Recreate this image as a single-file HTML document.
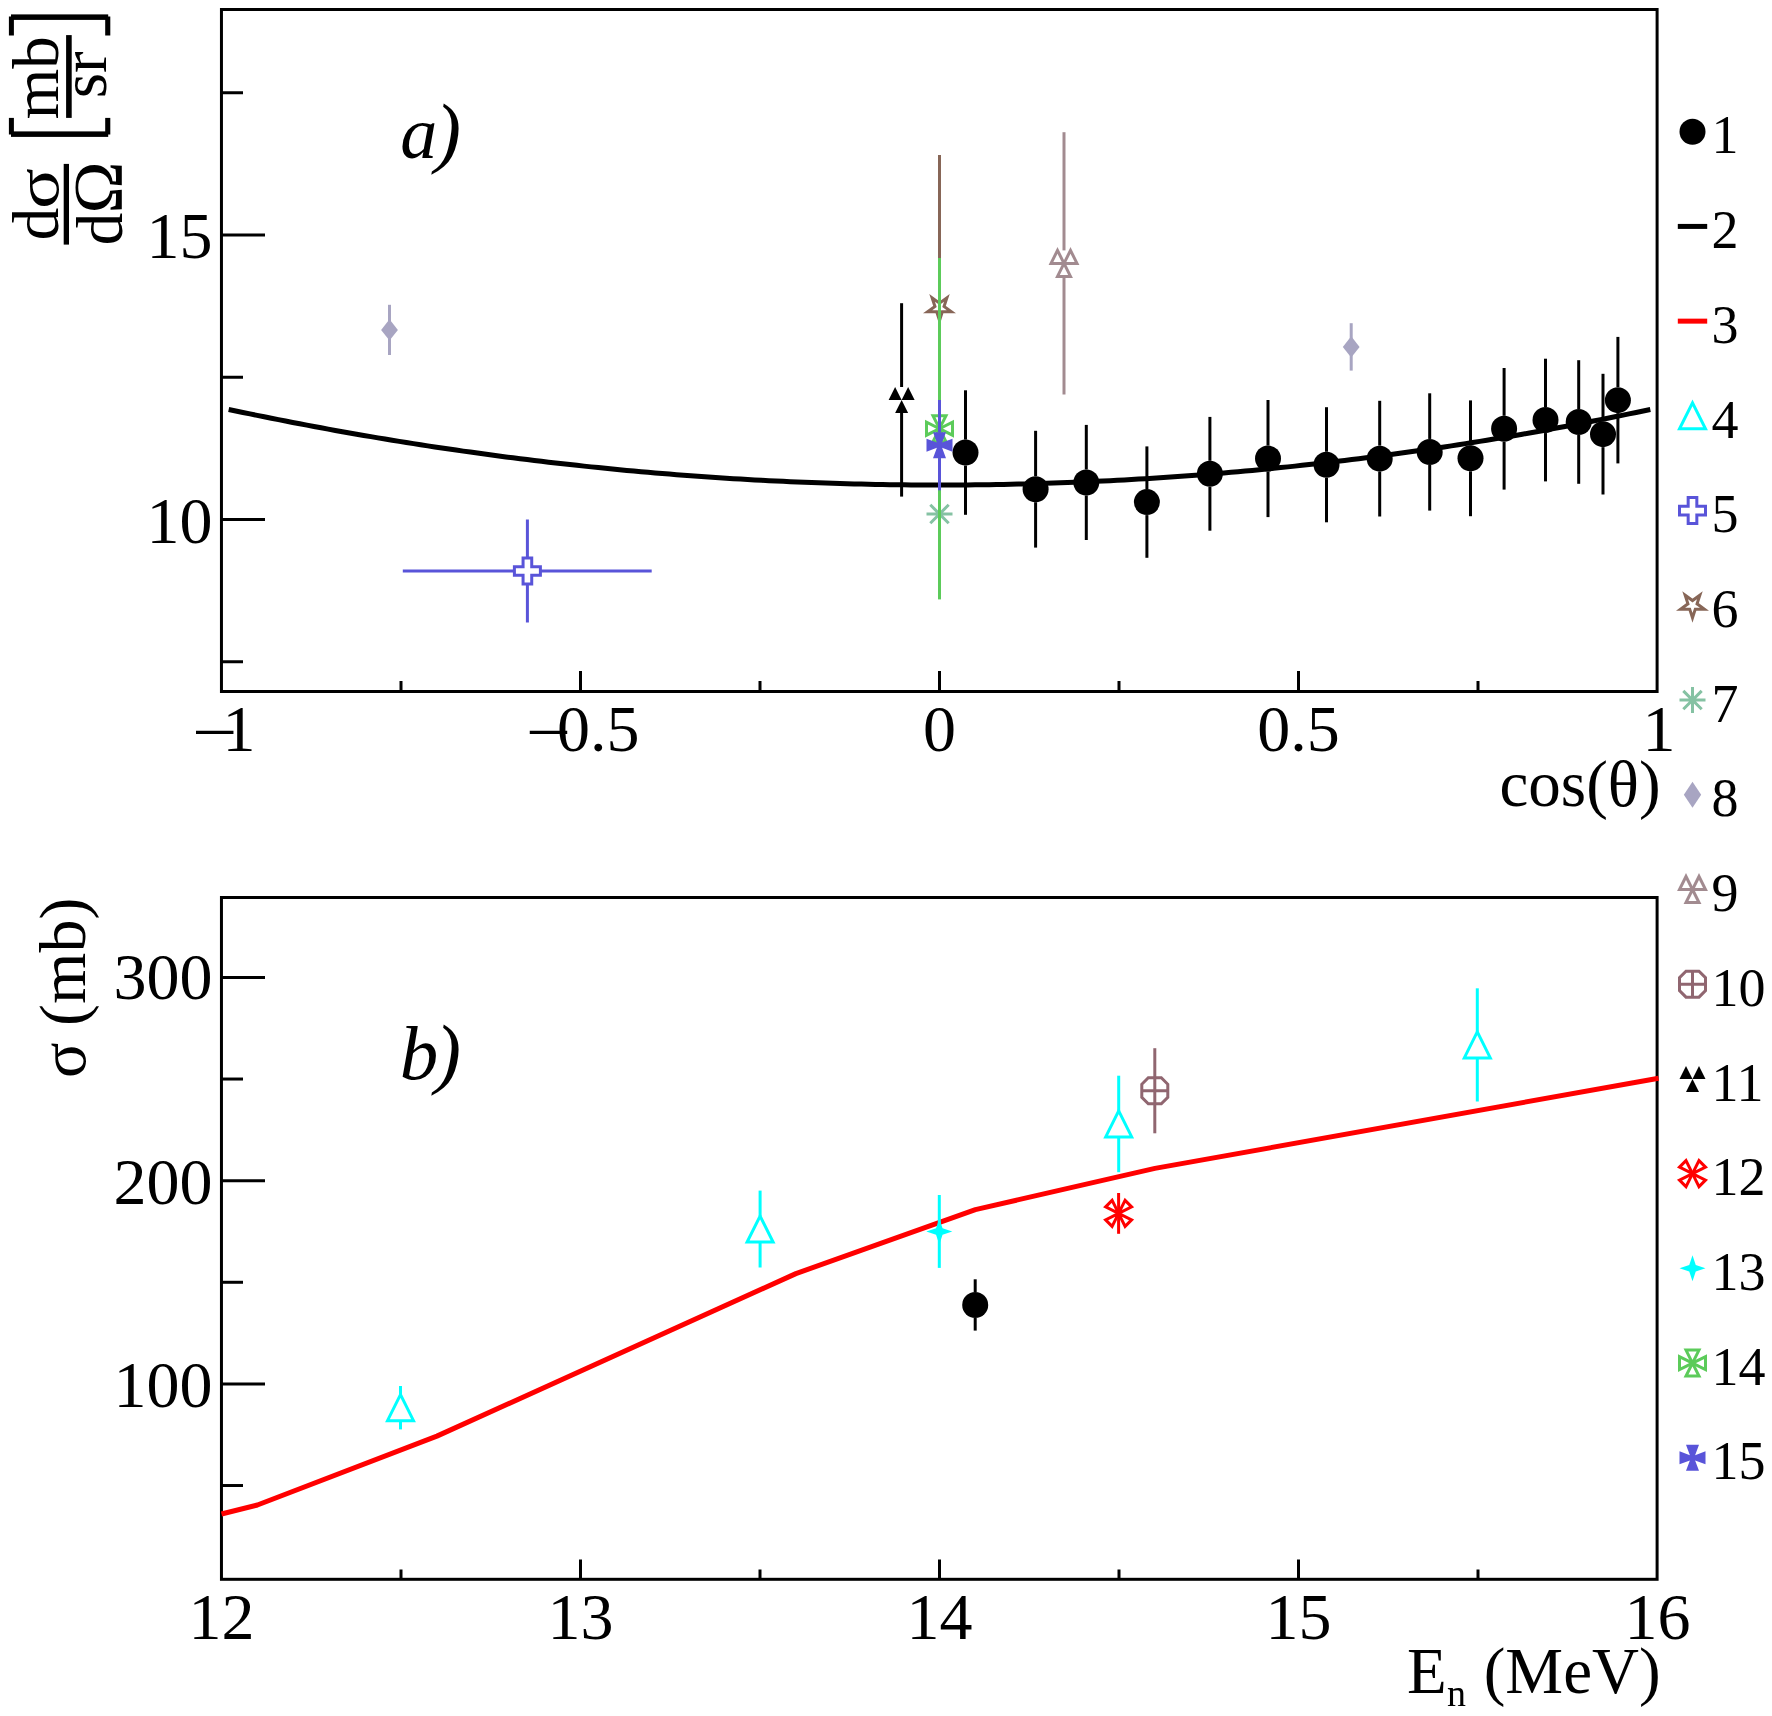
<!DOCTYPE html><html><head><meta charset="utf-8"><style>html,body{margin:0;padding:0;background:#fff;overflow:hidden}svg{display:block}text{font-family:"Liberation Serif",serif;fill:#000}</style></head><body>
<svg width="1772" height="1716" viewBox="0 0 1772 1716">
<rect width="1772" height="1716" fill="#fff"/>
<line x1="221.45" y1="661.75" x2="243" y2="661.75" stroke="#000" stroke-width="3"/>
<line x1="221.45" y1="377.25" x2="243" y2="377.25" stroke="#000" stroke-width="3"/>
<line x1="221.45" y1="92.75" x2="243" y2="92.75" stroke="#000" stroke-width="3"/>
<line x1="221.45" y1="519.5" x2="265" y2="519.5" stroke="#000" stroke-width="3"/>
<line x1="221.45" y1="235" x2="265" y2="235" stroke="#000" stroke-width="3"/>
<line x1="401" y1="691.5" x2="401" y2="681" stroke="#000" stroke-width="3"/>
<line x1="760" y1="691.5" x2="760" y2="681" stroke="#000" stroke-width="3"/>
<line x1="1119" y1="691.5" x2="1119" y2="681" stroke="#000" stroke-width="3"/>
<line x1="1478" y1="691.5" x2="1478" y2="681" stroke="#000" stroke-width="3"/>
<line x1="580.5" y1="691.5" x2="580.5" y2="671" stroke="#000" stroke-width="3"/>
<line x1="939.5" y1="691.5" x2="939.5" y2="671" stroke="#000" stroke-width="3"/>
<line x1="1298.5" y1="691.5" x2="1298.5" y2="671" stroke="#000" stroke-width="3"/>
<text x="212.4" y="542.7" font-size="66" text-anchor="end">10</text>
<text x="212.4" y="258.2" font-size="66" text-anchor="end">15</text>
<text x="239" y="750.6" font-size="66" text-anchor="middle">1</text>
<text x="0" y="0" font-size="66" transform="translate(192,753.9) scale(1.22,1)">&#8722;</text>
<text x="557.1" y="750.6" font-size="66" text-anchor="start">0.5</text>
<text x="0" y="0" font-size="66" transform="translate(525.8,753.9) scale(1.22,1)">&#8722;</text>
<text x="939.5" y="750.6" font-size="66" text-anchor="middle">0</text>
<text x="1298.5" y="750.6" font-size="66" text-anchor="middle">0.5</text>
<text x="1659" y="750.6" font-size="66" text-anchor="middle">1</text>
<text x="1660.6" y="806.4" font-size="65" text-anchor="end">cos(&#952;)</text>
<text x="400.2" y="158" font-size="74" text-anchor="start" font-style="italic">a</text>
<text x="435" y="157.8" font-size="78" text-anchor="start" font-style="italic">)</text>
<g transform="rotate(-90)">
<text x="-240.35" y="58" font-size="65" text-anchor="start">d</text>
<text x="0" y="0" font-size="65" transform="translate(-208.7,58) scale(1.16,0.93)">&#963;</text>
<text x="-245.15" y="122.3" font-size="65" text-anchor="start">d</text>
<text x="-213.4" y="122.3" font-size="70" text-anchor="start">&#937;</text>
<text x="-77.75" y="57.5" font-size="65" text-anchor="middle">mb</text>
<text x="-74.8" y="106.1" font-size="65" text-anchor="middle">sr</text>
</g>
<rect x="63.7" y="163.9" width="5.3" height="80.7" fill="#000"/>
<rect x="66.1" y="35.1" width="5.6" height="82.8" fill="#000"/>
<rect x="11" y="14.4" width="97.2" height="5.5" fill="#000"/>
<rect x="8.9" y="16.5" width="5" height="19" fill="#000"/>
<rect x="105.2" y="16.5" width="5.1" height="19" fill="#000"/>
<rect x="11" y="131.4" width="97.2" height="5.5" fill="#000"/>
<rect x="8.9" y="117.9" width="5" height="16.6" fill="#000"/>
<rect x="105.2" y="117.9" width="5.1" height="16.6" fill="#000"/>
<line x1="965.5" y1="390.3" x2="965.5" y2="439.55" stroke="#000000" stroke-width="3"/><line x1="965.5" y1="465.55" x2="965.5" y2="514.8" stroke="#000000" stroke-width="3"/><circle cx="965.5" cy="452.55" r="13" fill="#000000"/>
<line x1="1035.6" y1="430.8" x2="1035.6" y2="476.2" stroke="#000000" stroke-width="3"/><line x1="1035.6" y1="502.2" x2="1035.6" y2="547.6" stroke="#000000" stroke-width="3"/><circle cx="1035.6" cy="489.2" r="13" fill="#000000"/>
<line x1="1086.3" y1="424.9" x2="1086.3" y2="469.45" stroke="#000000" stroke-width="3"/><line x1="1086.3" y1="495.45" x2="1086.3" y2="540" stroke="#000000" stroke-width="3"/><circle cx="1086.3" cy="482.45" r="13" fill="#000000"/>
<line x1="1146.9" y1="446.4" x2="1146.9" y2="489.1" stroke="#000000" stroke-width="3"/><line x1="1146.9" y1="515.1" x2="1146.9" y2="557.8" stroke="#000000" stroke-width="3"/><circle cx="1146.9" cy="502.1" r="13" fill="#000000"/>
<line x1="1209.9" y1="416.9" x2="1209.9" y2="460.8" stroke="#000000" stroke-width="3"/><line x1="1209.9" y1="486.8" x2="1209.9" y2="530.7" stroke="#000000" stroke-width="3"/><circle cx="1209.9" cy="473.8" r="13" fill="#000000"/>
<line x1="1268" y1="400" x2="1268" y2="445.55" stroke="#000000" stroke-width="3"/><line x1="1268" y1="471.55" x2="1268" y2="517.1" stroke="#000000" stroke-width="3"/><circle cx="1268" cy="458.55" r="13" fill="#000000"/>
<line x1="1326.5" y1="407.2" x2="1326.5" y2="451.75" stroke="#000000" stroke-width="3"/><line x1="1326.5" y1="477.75" x2="1326.5" y2="522.3" stroke="#000000" stroke-width="3"/><circle cx="1326.5" cy="464.75" r="13" fill="#000000"/>
<line x1="1379.7" y1="400.8" x2="1379.7" y2="445.65" stroke="#000000" stroke-width="3"/><line x1="1379.7" y1="471.65" x2="1379.7" y2="516.5" stroke="#000000" stroke-width="3"/><circle cx="1379.7" cy="458.65" r="13" fill="#000000"/>
<line x1="1429.7" y1="393.3" x2="1429.7" y2="438.95" stroke="#000000" stroke-width="3"/><line x1="1429.7" y1="464.95" x2="1429.7" y2="510.6" stroke="#000000" stroke-width="3"/><circle cx="1429.7" cy="451.95" r="13" fill="#000000"/>
<line x1="1470.5" y1="400.4" x2="1470.5" y2="445.3" stroke="#000000" stroke-width="3"/><line x1="1470.5" y1="471.3" x2="1470.5" y2="516.2" stroke="#000000" stroke-width="3"/><circle cx="1470.5" cy="458.3" r="13" fill="#000000"/>
<line x1="1504.1" y1="368" x2="1504.1" y2="415.8" stroke="#000000" stroke-width="3"/><line x1="1504.1" y1="441.8" x2="1504.1" y2="489.6" stroke="#000000" stroke-width="3"/><circle cx="1504.1" cy="428.8" r="13" fill="#000000"/>
<line x1="1545.5" y1="358.7" x2="1545.5" y2="407.05" stroke="#000000" stroke-width="3"/><line x1="1545.5" y1="433.05" x2="1545.5" y2="481.4" stroke="#000000" stroke-width="3"/><circle cx="1545.5" cy="420.05" r="13" fill="#000000"/>
<line x1="1578.7" y1="360.2" x2="1578.7" y2="409" stroke="#000000" stroke-width="3"/><line x1="1578.7" y1="435" x2="1578.7" y2="483.8" stroke="#000000" stroke-width="3"/><circle cx="1578.7" cy="422" r="13" fill="#000000"/>
<line x1="1603" y1="373.8" x2="1603" y2="421.15" stroke="#000000" stroke-width="3"/><line x1="1603" y1="447.15" x2="1603" y2="494.5" stroke="#000000" stroke-width="3"/><circle cx="1603" cy="434.15" r="13" fill="#000000"/>
<line x1="1617.9" y1="336.9" x2="1617.9" y2="387.15" stroke="#000000" stroke-width="3"/><line x1="1617.9" y1="413.15" x2="1617.9" y2="463.4" stroke="#000000" stroke-width="3"/><circle cx="1617.9" cy="400.15" r="13" fill="#000000"/>
<polyline points="228.68,409.45 235.79,410.96 242.9,412.45 250,413.92 257.11,415.38 264.22,416.82 271.33,418.25 278.44,419.66 285.55,421.06 292.65,422.44 299.76,423.81 306.87,425.16 313.98,426.5 321.09,427.82 328.19,429.13 335.3,430.42 342.41,431.7 349.52,432.96 356.63,434.21 363.74,435.44 370.84,436.66 377.95,437.86 385.06,439.04 392.17,440.22 399.28,441.37 406.38,442.51 413.49,443.64 420.6,444.75 427.71,445.85 434.82,446.93 441.93,447.99 449.03,449.04 456.14,450.08 463.25,451.1 470.36,452.1 477.47,453.09 484.58,454.07 491.68,455.03 498.79,455.97 505.9,456.9 513.01,457.82 520.12,458.71 527.22,459.6 534.33,460.47 541.44,461.32 548.55,462.16 555.66,462.98 562.77,463.79 569.87,464.59 576.98,465.36 584.09,466.13 591.2,466.88 598.31,467.61 605.41,468.33 612.52,469.03 619.63,469.72 626.74,470.39 633.85,471.05 640.96,471.69 648.06,472.32 655.17,472.93 662.28,473.53 669.39,474.11 676.5,474.67 683.6,475.23 690.71,475.76 697.82,476.28 704.93,476.79 712.04,477.28 719.15,477.76 726.25,478.22 733.36,478.66 740.47,479.09 747.58,479.51 754.69,479.91 761.8,480.3 768.9,480.67 776.01,481.02 783.12,481.36 790.23,481.69 797.34,482 804.44,482.29 811.55,482.57 818.66,482.83 825.77,483.08 832.88,483.32 839.99,483.54 847.09,483.74 854.2,483.93 861.31,484.1 868.42,484.26 875.53,484.41 882.63,484.53 889.74,484.65 896.85,484.75 903.96,484.83 911.07,484.9 918.18,484.95 925.28,484.99 932.39,485.01 939.5,485.02 946.61,485.01 953.72,484.99 960.82,484.95 967.93,484.9 975.04,484.83 982.15,484.75 989.26,484.65 996.37,484.53 1003.47,484.41 1010.58,484.26 1017.69,484.1 1024.8,483.93 1031.91,483.74 1039.01,483.54 1046.12,483.32 1053.23,483.08 1060.34,482.83 1067.45,482.57 1074.56,482.29 1081.66,482 1088.77,481.69 1095.88,481.36 1102.99,481.02 1110.1,480.67 1117.2,480.3 1124.31,479.91 1131.42,479.51 1138.53,479.09 1145.64,478.66 1152.75,478.22 1159.85,477.76 1166.96,477.28 1174.07,476.79 1181.18,476.28 1188.29,475.76 1195.4,475.23 1202.5,474.67 1209.61,474.11 1216.72,473.53 1223.83,472.93 1230.94,472.32 1238.04,471.69 1245.15,471.05 1252.26,470.39 1259.37,469.72 1266.48,469.03 1273.59,468.33 1280.69,467.61 1287.8,466.88 1294.91,466.13 1302.02,465.36 1309.13,464.59 1316.23,463.79 1323.34,462.98 1330.45,462.16 1337.56,461.32 1344.67,460.47 1351.78,459.6 1358.88,458.71 1365.99,457.82 1373.1,456.9 1380.21,455.97 1387.32,455.03 1394.42,454.07 1401.53,453.09 1408.64,452.1 1415.75,451.1 1422.86,450.08 1429.97,449.04 1437.07,447.99 1444.18,446.93 1451.29,445.85 1458.4,444.75 1465.51,443.64 1472.62,442.51 1479.72,441.37 1486.83,440.22 1493.94,439.04 1501.05,437.86 1508.16,436.66 1515.26,435.44 1522.37,434.21 1529.48,432.96 1536.59,431.7 1543.7,430.42 1550.81,429.13 1557.91,427.82 1565.02,426.5 1572.13,425.16 1579.24,423.81 1586.35,422.44 1593.45,421.06 1600.56,419.66 1607.67,418.25 1614.78,416.82 1621.89,415.38 1629,413.92 1636.1,412.45 1643.21,410.96 1650.32,409.45" fill="none" stroke="#000" stroke-width="5"/>
<line x1="402.8" y1="571" x2="514.4" y2="571" stroke="#5954d9" stroke-width="3"/><line x1="540.4" y1="571" x2="651.7" y2="571" stroke="#5954d9" stroke-width="3"/><line x1="527.4" y1="519.5" x2="527.4" y2="558" stroke="#5954d9" stroke-width="3"/><line x1="527.4" y1="584" x2="527.4" y2="622.5" stroke="#5954d9" stroke-width="3"/><path d="M523.07 566.67 L523.07 558 L531.73 558 L531.73 566.67 L540.4 566.67 L540.4 575.33 L531.73 575.33 L531.73 584 L523.07 584 L523.07 575.33 L514.4 575.33 L514.4 566.67 Z" fill="none" stroke="#5954d9" stroke-width="3" stroke-linejoin="miter" stroke-miterlimit="10"/>
<line x1="939.5" y1="155" x2="939.5" y2="295.5" stroke="#876657" stroke-width="3"/><line x1="939.5" y1="320.5" x2="939.5" y2="461" stroke="#876657" stroke-width="3"/><path d="M939.5 320.5 L942.31 311.86 L951.39 311.86 L944.04 306.52 L946.85 297.89 L939.5 303.23 L932.15 297.89 L934.96 306.52 L927.61 311.86 L936.69 311.86 Z" fill="none" stroke="#876657" stroke-width="3" stroke-linejoin="miter" stroke-miterlimit="10"/>
<path d="M926.5 514L952.5 514 M939.5 501L939.5 527 M930.31 504.81L948.69 523.19 M930.31 523.19L948.69 504.81" stroke="#85c2a3" stroke-width="3" fill="none"/>
<line x1="389.5" y1="304.8" x2="389.5" y2="355" stroke="#a8a5c2" stroke-width="3"/><path d="M389.5 319.2 L397.9 329.9 L389.5 340.6 L381.1 329.9 Z" fill="#a8a5c2"/>
<line x1="1351.2" y1="323.2" x2="1351.2" y2="370.6" stroke="#a8a5c2" stroke-width="3"/><path d="M1351.2 336.2 L1359.6 346.9 L1351.2 357.6 L1342.8 346.9 Z" fill="#a8a5c2"/>
<line x1="1064" y1="132.2" x2="1064" y2="250.4" stroke="#a28b90" stroke-width="3"/><line x1="1064" y1="276.4" x2="1064" y2="394.5" stroke="#a28b90" stroke-width="3"/><path d="M1064 263.4 L1057.5 250.4 L1051 263.4 Z" fill="none" stroke="#a28b90" stroke-width="3" stroke-linejoin="miter" stroke-miterlimit="10"/><path d="M1064 263.4 L1057.5 276.4 L1070.5 276.4 Z" fill="none" stroke="#a28b90" stroke-width="3" stroke-linejoin="miter" stroke-miterlimit="10"/><path d="M1064 263.4 L1077 263.4 L1070.5 250.4 Z" fill="none" stroke="#a28b90" stroke-width="3" stroke-linejoin="miter" stroke-miterlimit="10"/>
<line x1="901.6" y1="303.2" x2="901.6" y2="387" stroke="#000000" stroke-width="3"/><line x1="901.6" y1="413" x2="901.6" y2="496.6" stroke="#000000" stroke-width="3"/><path d="M901.6 400 L895.1 387 L888.6 400 Z" fill="#000000"/><path d="M901.6 400 L895.1 413 L908.1 413 Z" fill="#000000"/><path d="M901.6 400 L914.6 400 L908.1 387 Z" fill="#000000"/>
<line x1="939.5" y1="258" x2="939.5" y2="415.7" stroke="#5ccb5a" stroke-width="3"/><line x1="939.5" y1="441.7" x2="939.5" y2="599.4" stroke="#5ccb5a" stroke-width="3"/><path d="M939.5 428.7 L946 441.7 L933 441.7 Z" fill="none" stroke="#5ccb5a" stroke-width="3" stroke-linejoin="miter" stroke-miterlimit="10"/><path d="M939.5 428.7 L946 415.7 L933 415.7 Z" fill="none" stroke="#5ccb5a" stroke-width="3" stroke-linejoin="miter" stroke-miterlimit="10"/><path d="M939.5 428.7 L952.5 435.2 L952.5 422.2 Z" fill="none" stroke="#5ccb5a" stroke-width="3" stroke-linejoin="miter" stroke-miterlimit="10"/><path d="M939.5 428.7 L926.5 435.2 L926.5 422.2 Z" fill="none" stroke="#5ccb5a" stroke-width="3" stroke-linejoin="miter" stroke-miterlimit="10"/>
<line x1="939.5" y1="400" x2="939.5" y2="432.2" stroke="#5954d9" stroke-width="3"/><line x1="939.5" y1="458.2" x2="939.5" y2="490.3" stroke="#5954d9" stroke-width="3"/><path d="M942.1 447.8 L946 458.2 L933 458.2 L936.9 447.8 L926.5 451.7 L926.5 438.7 L936.9 442.6 L933 432.2 L946 432.2 L942.1 442.6 L952.5 438.7 L952.5 451.7 Z" fill="#5954d9"/>
<rect x="221.45" y="9.5" width="1435.65" height="682" fill="none" stroke="#000" stroke-width="3"/>
<rect x="221.45" y="897.5" width="1435.65" height="681.8" fill="none" stroke="#000" stroke-width="3"/>
<line x1="221.45" y1="1485.53" x2="243" y2="1485.53" stroke="#000" stroke-width="3"/>
<line x1="221.45" y1="1282.28" x2="243" y2="1282.28" stroke="#000" stroke-width="3"/>
<line x1="221.45" y1="1079.03" x2="243" y2="1079.03" stroke="#000" stroke-width="3"/>
<line x1="221.45" y1="1383.9" x2="265" y2="1383.9" stroke="#000" stroke-width="3"/>
<line x1="221.45" y1="1180.65" x2="265" y2="1180.65" stroke="#000" stroke-width="3"/>
<line x1="221.45" y1="977.4" x2="265" y2="977.4" stroke="#000" stroke-width="3"/>
<line x1="401" y1="1579.3" x2="401" y2="1569.5" stroke="#000" stroke-width="3"/>
<line x1="760" y1="1579.3" x2="760" y2="1569.5" stroke="#000" stroke-width="3"/>
<line x1="1119" y1="1579.3" x2="1119" y2="1569.5" stroke="#000" stroke-width="3"/>
<line x1="1478" y1="1579.3" x2="1478" y2="1569.5" stroke="#000" stroke-width="3"/>
<line x1="580.5" y1="1579.3" x2="580.5" y2="1559.5" stroke="#000" stroke-width="3"/>
<line x1="939.5" y1="1579.3" x2="939.5" y2="1559.5" stroke="#000" stroke-width="3"/>
<line x1="1298.5" y1="1579.3" x2="1298.5" y2="1559.5" stroke="#000" stroke-width="3"/>
<text x="212.4" y="1406.9" font-size="66" text-anchor="end">100</text>
<text x="212.4" y="1204.4" font-size="66" text-anchor="end">200</text>
<text x="212.4" y="999.4" font-size="66" text-anchor="end">300</text>
<text x="221.5" y="1639.2" font-size="66" text-anchor="middle">12</text>
<text x="580.5" y="1639.2" font-size="66" text-anchor="middle">13</text>
<text x="939.5" y="1639.2" font-size="66" text-anchor="middle">14</text>
<text x="1298.5" y="1639.2" font-size="66" text-anchor="middle">15</text>
<text x="1657.5" y="1639.2" font-size="66" text-anchor="middle">16</text>
<text x="1660.6" y="1692.5" font-size="65" text-anchor="end">(MeV)</text>
<text x="1407" y="1692.5" font-size="65" text-anchor="start">E</text>
<filter id="gs" x="0" y="0" width="1" height="1"><feOffset dx="0" dy="0"/></filter>
<text x="1447" y="1706" font-size="38" filter="url(#gs)">n</text>
<g transform="rotate(-90)"><text x="-1078" y="85" font-size="66" text-anchor="start">&#963; (mb)</text></g>
<text x="399.8" y="1079.05" font-size="77" text-anchor="start" font-style="italic">b</text>
<text x="435" y="1079.2" font-size="78" text-anchor="start" font-style="italic">)</text>
<polyline points="221.5,1514 257.4,1505 436.9,1436.1 795.9,1273.6 975.4,1209.6 1154.9,1168.4 1658.6,1078.2" fill="none" stroke="#ff0000" stroke-width="5" stroke-linejoin="round"/>
<line x1="975.2" y1="1279.3" x2="975.2" y2="1292" stroke="#000000" stroke-width="3"/><line x1="975.2" y1="1318" x2="975.2" y2="1330.6" stroke="#000000" stroke-width="3"/><circle cx="975.2" cy="1305" r="13" fill="#000000"/>
<line x1="400.5" y1="1386" x2="400.5" y2="1394.7" stroke="#00ffff" stroke-width="3"/><line x1="400.5" y1="1420.7" x2="400.5" y2="1429.4" stroke="#00ffff" stroke-width="3"/><path d="M387.5 1420.7 L413.5 1420.7 L400.5 1394.7 Z" fill="none" stroke="#00ffff" stroke-width="3" stroke-linejoin="miter" stroke-miterlimit="10"/>
<line x1="760.1" y1="1190.6" x2="760.1" y2="1216.05" stroke="#00ffff" stroke-width="3"/><line x1="760.1" y1="1242.05" x2="760.1" y2="1267.5" stroke="#00ffff" stroke-width="3"/><path d="M747.1 1242.05 L773.1 1242.05 L760.1 1216.05 Z" fill="none" stroke="#00ffff" stroke-width="3" stroke-linejoin="miter" stroke-miterlimit="10"/>
<line x1="1118.7" y1="1075.7" x2="1118.7" y2="1110.95" stroke="#00ffff" stroke-width="3"/><line x1="1118.7" y1="1136.95" x2="1118.7" y2="1172.2" stroke="#00ffff" stroke-width="3"/><path d="M1105.7 1136.95 L1131.7 1136.95 L1118.7 1110.95 Z" fill="none" stroke="#00ffff" stroke-width="3" stroke-linejoin="miter" stroke-miterlimit="10"/>
<line x1="1477.3" y1="988.3" x2="1477.3" y2="1031.9" stroke="#00ffff" stroke-width="3"/><line x1="1477.3" y1="1057.9" x2="1477.3" y2="1101.5" stroke="#00ffff" stroke-width="3"/><path d="M1464.3 1057.9 L1490.3 1057.9 L1477.3 1031.9 Z" fill="none" stroke="#00ffff" stroke-width="3" stroke-linejoin="miter" stroke-miterlimit="10"/>
<line x1="1154.8" y1="1048.2" x2="1154.8" y2="1077.8" stroke="#906670" stroke-width="3"/><line x1="1154.8" y1="1103.8" x2="1154.8" y2="1133.3" stroke="#906670" stroke-width="3"/><path d="M1141.8 1090.8 L1141.8 1084.3 L1148.3 1077.8 L1161.3 1077.8 L1167.8 1084.3 L1167.8 1097.3 L1161.3 1103.8 L1148.3 1103.8 L1141.8 1097.3 Z" fill="none" stroke="#906670" stroke-width="3" stroke-linejoin="miter" stroke-miterlimit="10"/><path d="M1141.8 1090.8L1167.8 1090.8 M1154.8 1077.8L1154.8 1103.8" stroke="#906670" stroke-width="3"/>
<line x1="1118.6" y1="1193" x2="1118.6" y2="1233.8" stroke="#ff0000" stroke-width="3"/><path d="M1118.6 1213.4 L1125.1 1226.4 L1131.6 1219.9 Z" fill="none" stroke="#ff0000" stroke-width="3" stroke-linejoin="miter" stroke-miterlimit="10"/><path d="M1118.6 1213.4 L1131.6 1206.9 L1125.1 1200.4 Z" fill="none" stroke="#ff0000" stroke-width="3" stroke-linejoin="miter" stroke-miterlimit="10"/><path d="M1118.6 1213.4 L1112.1 1200.4 L1105.6 1206.9 Z" fill="none" stroke="#ff0000" stroke-width="3" stroke-linejoin="miter" stroke-miterlimit="10"/><path d="M1118.6 1213.4 L1105.6 1219.9 L1112.1 1226.4 Z" fill="none" stroke="#ff0000" stroke-width="3" stroke-linejoin="miter" stroke-miterlimit="10"/>
<line x1="939.3" y1="1195" x2="939.3" y2="1267.9" stroke="#00ffff" stroke-width="3"/><path d="M939.3 1244.5 L936.05 1234.75 L926.3 1231.5 L936.05 1228.25 L939.3 1218.5 L942.55 1228.25 L952.3 1231.5 L942.55 1234.75 Z" fill="#00ffff"/>
<circle cx="1692.5" cy="131.7" r="13" fill="#000000"/>
<text x="1711.5" y="153.4" font-size="54" text-anchor="start">1</text>
<line x1="1677.8" y1="226.42" x2="1707.2" y2="226.42" stroke="#000000" stroke-width="5"/>
<text x="1711.5" y="248.12" font-size="54" text-anchor="start">2</text>
<line x1="1677.8" y1="321.14" x2="1707.2" y2="321.14" stroke="#ff0000" stroke-width="5"/>
<text x="1711.5" y="342.84" font-size="54" text-anchor="start">3</text>
<path d="M1679.5 428.86 L1705.5 428.86 L1692.5 402.86 Z" fill="none" stroke="#00ffff" stroke-width="3" stroke-linejoin="miter" stroke-miterlimit="10"/>
<text x="1711.5" y="437.56" font-size="54" text-anchor="start">4</text>
<path d="M1688.17 506.25 L1688.17 497.58 L1696.83 497.58 L1696.83 506.25 L1705.5 506.25 L1705.5 514.91 L1696.83 514.91 L1696.83 523.58 L1688.17 523.58 L1688.17 514.91 L1679.5 514.91 L1679.5 506.25 Z" fill="none" stroke="#5954d9" stroke-width="3" stroke-linejoin="miter" stroke-miterlimit="10"/>
<text x="1711.5" y="532.28" font-size="54" text-anchor="start">5</text>
<path d="M1692.5 617.8 L1695.31 609.16 L1704.39 609.16 L1697.04 603.82 L1699.85 595.19 L1692.5 600.53 L1685.15 595.19 L1687.96 603.82 L1680.61 609.16 L1689.69 609.16 Z" fill="none" stroke="#876657" stroke-width="3" stroke-linejoin="miter" stroke-miterlimit="10"/>
<text x="1711.5" y="627" font-size="54" text-anchor="start">6</text>
<path d="M1679.5 700.02L1705.5 700.02 M1692.5 687.02L1692.5 713.02 M1683.31 690.83L1701.69 709.21 M1683.31 709.21L1701.69 690.83" stroke="#85c2a3" stroke-width="3" fill="none"/>
<text x="1711.5" y="721.72" font-size="54" text-anchor="start">7</text>
<path d="M1692.5 781.74 L1701.17 794.74 L1692.5 807.74 L1683.83 794.74 Z" fill="#a8a5c2"/>
<text x="1711.5" y="816.44" font-size="54" text-anchor="start">8</text>
<path d="M1692.5 889.46 L1686 876.46 L1679.5 889.46 Z" fill="none" stroke="#a28b90" stroke-width="3" stroke-linejoin="miter" stroke-miterlimit="10"/><path d="M1692.5 889.46 L1686 902.46 L1699 902.46 Z" fill="none" stroke="#a28b90" stroke-width="3" stroke-linejoin="miter" stroke-miterlimit="10"/><path d="M1692.5 889.46 L1705.5 889.46 L1699 876.46 Z" fill="none" stroke="#a28b90" stroke-width="3" stroke-linejoin="miter" stroke-miterlimit="10"/>
<text x="1711.5" y="911.16" font-size="54" text-anchor="start">9</text>
<path d="M1679.5 984.18 L1679.5 977.68 L1686 971.18 L1699 971.18 L1705.5 977.68 L1705.5 990.68 L1699 997.18 L1686 997.18 L1679.5 990.68 Z" fill="none" stroke="#906670" stroke-width="3" stroke-linejoin="miter" stroke-miterlimit="10"/><path d="M1679.5 984.18L1705.5 984.18 M1692.5 971.18L1692.5 997.18" stroke="#906670" stroke-width="3"/>
<text x="1711.5" y="1005.88" font-size="54" text-anchor="start">10</text>
<path d="M1692.5 1078.9 L1686 1065.9 L1679.5 1078.9 Z" fill="#000000"/><path d="M1692.5 1078.9 L1686 1091.9 L1699 1091.9 Z" fill="#000000"/><path d="M1692.5 1078.9 L1705.5 1078.9 L1699 1065.9 Z" fill="#000000"/>
<text x="1711.5" y="1100.6" font-size="54" text-anchor="start">11</text>
<path d="M1692.5 1173.62 L1699 1186.62 L1705.5 1180.12 Z" fill="none" stroke="#ff0000" stroke-width="3" stroke-linejoin="miter" stroke-miterlimit="10"/><path d="M1692.5 1173.62 L1705.5 1167.12 L1699 1160.62 Z" fill="none" stroke="#ff0000" stroke-width="3" stroke-linejoin="miter" stroke-miterlimit="10"/><path d="M1692.5 1173.62 L1686 1160.62 L1679.5 1167.12 Z" fill="none" stroke="#ff0000" stroke-width="3" stroke-linejoin="miter" stroke-miterlimit="10"/><path d="M1692.5 1173.62 L1679.5 1180.12 L1686 1186.62 Z" fill="none" stroke="#ff0000" stroke-width="3" stroke-linejoin="miter" stroke-miterlimit="10"/>
<text x="1711.5" y="1195.32" font-size="54" text-anchor="start">12</text>
<path d="M1692.5 1281.34 L1689.25 1271.59 L1679.5 1268.34 L1689.25 1265.09 L1692.5 1255.34 L1695.75 1265.09 L1705.5 1268.34 L1695.75 1271.59 Z" fill="#00ffff"/>
<text x="1711.5" y="1290.04" font-size="54" text-anchor="start">13</text>
<path d="M1692.5 1363.06 L1699 1376.06 L1686 1376.06 Z" fill="none" stroke="#5ccb5a" stroke-width="3" stroke-linejoin="miter" stroke-miterlimit="10"/><path d="M1692.5 1363.06 L1699 1350.06 L1686 1350.06 Z" fill="none" stroke="#5ccb5a" stroke-width="3" stroke-linejoin="miter" stroke-miterlimit="10"/><path d="M1692.5 1363.06 L1705.5 1369.56 L1705.5 1356.56 Z" fill="none" stroke="#5ccb5a" stroke-width="3" stroke-linejoin="miter" stroke-miterlimit="10"/><path d="M1692.5 1363.06 L1679.5 1369.56 L1679.5 1356.56 Z" fill="none" stroke="#5ccb5a" stroke-width="3" stroke-linejoin="miter" stroke-miterlimit="10"/>
<text x="1711.5" y="1384.76" font-size="54" text-anchor="start">14</text>
<path d="M1695.1 1460.38 L1699 1470.78 L1686 1470.78 L1689.9 1460.38 L1679.5 1464.28 L1679.5 1451.28 L1689.9 1455.18 L1686 1444.78 L1699 1444.78 L1695.1 1455.18 L1705.5 1451.28 L1705.5 1464.28 Z" fill="#5954d9"/>
<text x="1711.5" y="1479.48" font-size="54" text-anchor="start">15</text>
</svg></body></html>
